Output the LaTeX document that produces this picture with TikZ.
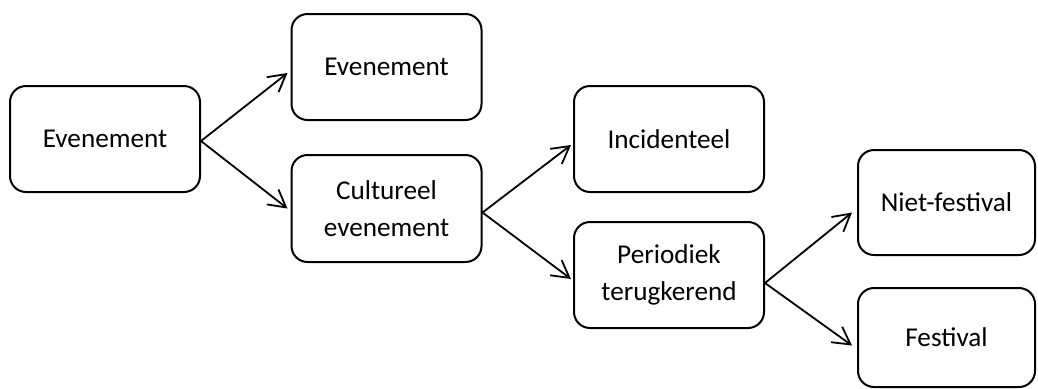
\documentclass[tikz,border=0pt]{standalone}
\usepackage{fontspec}
\setmainfont{Carlito}
\usetikzlibrary{arrows.meta}

\begin{document}
\begin{tikzpicture}[x=0.5pt,y=-0.5pt,
        box/.style={draw,line width=1pt,rounded corners=8pt,minimum width=95pt,minimum height=53pt,
                    align=center,inner sep=0pt,font=\fontsize{13.6}{18.5}\selectfont},
        arr/.style={-{Straight Barb[length=8.5pt,width=9.5pt]},line width=0.9pt}]
        \useasboundingbox (0,0) rectangle (1038,388);
        \node[box] (ev) at (105,139) {Evenement};
        \node[box] (ev2) at (386.5,67) {Evenement};
        \node[box,minimum height=53.5pt] (cult) at (386.5,208.5) {Cultureel\\evenement};
        \node[box] (inc) at (669,139) {Incidenteel};
        \node[box] (per) at (669,275) {Periodiek\\terugkerend};
        \node[box,minimum width=88.5pt,minimum height=52.5pt] (niet) at (946.5,202.5) {Niet-festival};
        \node[box,minimum width=88.5pt,minimum height=49.5pt] (fest) at (946.5,337.5) {Festival};
        \draw[arr] ([yshift=-1pt]ev.east) -- ([xshift=-1.5pt,yshift=-3pt]ev2.west);
        \draw[arr] ([yshift=-1pt]ev.east) -- ([xshift=-1.5pt]cult.west);
        \draw[arr] ([yshift=-2pt]cult.east) -- ([xshift=-1pt,yshift=-3pt]inc.west);
        \draw[arr] ([yshift=-2pt]cult.east) -- ([xshift=-1pt,yshift=-2pt]per.west);
        \draw[arr] ([yshift=-4pt]per.east) -- ([xshift=-2.5pt,yshift=-5pt]niet.west);
        \draw[arr] ([yshift=-4pt]per.east) -- ([xshift=-2.5pt,yshift=-4pt]fest.west);
    \end{tikzpicture}
\end{document}
